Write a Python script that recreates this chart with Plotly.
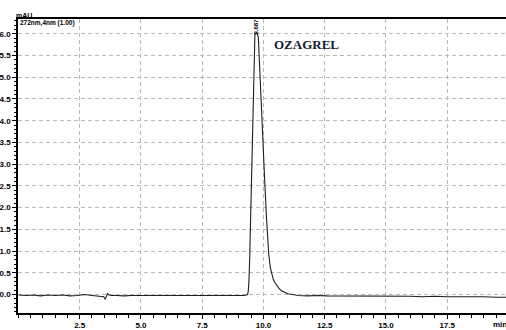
import plotly.graph_objects as go

# Chromatogram trace: retention time (min) and detector response (mAU)
time_min = [
    0.00, 0.30, 0.60, 0.90, 1.20, 1.50, 1.80, 2.10, 2.40, 2.70, 3.00, 3.20,
    3.40, 3.48, 3.54, 3.58, 3.63, 3.70, 3.80, 4.00, 4.30, 4.60, 5.00, 5.40,
    5.80, 6.20, 6.60, 7.00, 7.40, 7.80, 8.20, 8.60, 9.00, 9.20, 9.30, 9.35,
    9.38, 9.41, 9.44, 9.47, 9.50, 9.53, 9.56, 9.59, 9.62, 9.65, 9.70, 9.75,
    9.79, 9.82, 9.86, 9.90, 9.95, 10.00, 10.06, 10.12, 10.17, 10.22, 10.28,
    10.33, 10.40, 10.47, 10.55, 10.65, 10.75, 10.85, 11.00, 11.20, 11.40,
    11.80, 12.20, 12.60, 13.00, 13.50, 14.00, 14.50, 15.00, 15.50, 16.00,
    16.50, 17.00, 17.50, 18.00, 18.50, 19.00, 19.50, 19.90,
]
absorbance_mau = [
    -0.01, -0.02, -0.01, -0.03, -0.01, -0.02, -0.01, -0.03, -0.02, 0.00, -0.02, -0.03,
    -0.03, -0.05, -0.11, -0.06, 0.02, -0.01, -0.02, -0.02, -0.03, -0.02, -0.02, -0.02,
    -0.03, -0.02, -0.03, -0.03, -0.02, -0.03, -0.02, -0.03, -0.02, -0.02, -0.01, 0.00,
    0.08, 0.35, 0.90, 1.70, 2.60, 3.50, 4.40, 5.20, 5.80, 5.98, 6.01, 6.00,
    5.92, 5.50, 5.00, 4.60, 3.90, 3.30, 2.50, 1.80, 1.30, 0.90, 0.62,
    0.48, 0.35, 0.27, 0.20, 0.13, 0.08, 0.05, 0.02, 0.00, -0.02,
    -0.03, -0.02, -0.03, -0.03, -0.04, -0.03, -0.04, -0.04, -0.03, -0.04,
    -0.05, -0.04, -0.05, -0.05, -0.04, -0.05, -0.06, -0.06,
]

peak_time = 9.70
peak_label = "9.687"
compound = "OZAGREL"
y_unit = "mAU"
channel = "272nm,4nm (1.00)"

x_ticks = [2.5, 5.0, 7.5, 10.0, 12.5, 15.0, 17.5]
x_tick_text = ["2.5", "5.0", "7.5", "10.0", "12.5", "15.0", "17.5"]
y_ticks = [0.0, 0.5, 1.0, 1.5, 2.0, 2.5, 3.0, 3.5, 4.0, 4.5, 5.0, 5.5, 6.0]

tick_font = dict(family="Liberation Sans, Arial", size=8, color="#000000", weight="bold")
grid_color = "#b8b8b8"

fig = go.Figure()
fig.add_trace(go.Scatter(
    x=time_min, y=absorbance_mau, mode="lines",
    line=dict(color="#1e1e1e", width=1.1),
    hoverinfo="skip", showlegend=False,
))

fig.update_layout(
    width=506, height=330,
    margin=dict(l=16, r=0, t=19, b=8),
    paper_bgcolor="white", plot_bgcolor="white",
    xaxis=dict(
        range=[-0.02, 19.9],
        tickvals=x_ticks, ticktext=x_tick_text,
        showgrid=True, gridcolor=grid_color, griddash="4px,3px", gridwidth=1,
        zeroline=False,
        showline=True, linecolor="#000000", linewidth=1.5, mirror=True,
        ticks="outside", ticklen=4, tickcolor="#000000",
        minor=dict(dtick=0.5, tick0=0, ticks="outside", ticklen=3,
                   tickcolor="#000000", showgrid=False),
        tickfont=tick_font,
    ),
    yaxis=dict(
        range=[-0.424, 6.34],
        tickvals=y_ticks, tickformat=".1f",
        showgrid=True, gridcolor=grid_color, griddash="4px,3px", gridwidth=1,
        zeroline=False,
        showline=True, linecolor="#000000", linewidth=1.5, mirror=False,
        ticks="outside", ticklen=4, tickcolor="#000000",
        minor=dict(dtick=0.1, tick0=0, ticks="outside", ticklen=2,
                   tickcolor="#000000", showgrid=False),
        tickfont=tick_font,
    ),
)

fig.add_annotation(
    x=-0.008, y=1.013, xref="paper", yref="paper", xanchor="left", yanchor="middle",
    text=y_unit, showarrow=False,
    font=dict(family="Liberation Sans, Arial", size=7, color="#000000", weight="bold"),
)
fig.add_annotation(
    x=0.0, y=0.985, xref="paper", yref="paper", xanchor="left", yanchor="middle",
    text=channel, showarrow=False,
    font=dict(family="Liberation Sans, Arial", size=6.5, color="#000000", weight="bold"),
)
fig.add_annotation(
    x=0.988, y=-0.018, xref="paper", yref="paper", xanchor="center", yanchor="top",
    text="min", showarrow=False, font=tick_font,
)
fig.add_annotation(
    x=peak_time, y=6.17, xref="x", yref="y", xanchor="center", yanchor="middle",
    text=peak_label, textangle=-90, showarrow=False,
    font=dict(family="Liberation Sans, Arial", size=6, color="#000000", weight="bold"),
)
fig.add_annotation(
    x=11.75, y=5.75, xref="x", yref="y", xanchor="center", yanchor="middle",
    text=compound, showarrow=False,
    font=dict(family="Liberation Serif, Times New Roman", size=13, color="#141a2e", weight="bold"),
)

fig.write_html("out.html")
